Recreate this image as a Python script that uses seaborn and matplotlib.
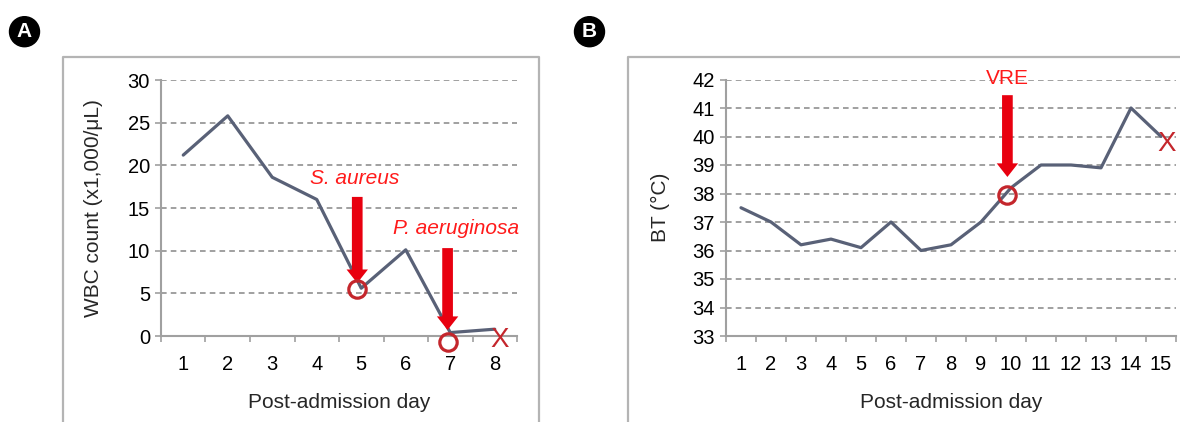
import matplotlib
matplotlib.use("Agg")
import matplotlib.pyplot as plt
import seaborn as sns
import pandas as pd
from matplotlib.patches import Circle
from matplotlib.lines import Line2D

# ---------------- data ----------------
days_a = [1, 2, 3, 4, 5, 6, 7, 8]
wbc = [21.2, 25.8, 18.6, 16.0, 5.6, 10.1, 0.4, 0.8]
yticks_a = [0, 5, 10, 15, 20, 25, 30]

days_b = [1, 2, 3, 4, 5, 6, 7, 8, 9, 10, 11, 12, 13, 14, 15]
bt = [37.5, 37.0, 36.2, 36.4, 36.1, 37.0, 36.0, 36.2, 37.0, 38.2, 39.0, 39.0, 38.9, 41.0, 40.0]
yticks_b = [33, 34, 35, 36, 37, 38, 39, 40, 41, 42]

# annotations: (label, text_x, text_y, arrow_x, arrow_top, arrow_tip, circle_x, circle_y)
ann_a = [("S. aureus", 4.86, 18.5, 4.91, 16.3, 6.2, 4.91, 5.5),
         ("P. aeruginosa", 7.12, 12.6, 6.94, 10.3, 0.7, 6.94, -0.67)]
death_a = (8.12, -0.47)
ann_b = [("VRE", 9.87, 42.05, 9.88, 41.45, 38.58, 9.86, 37.94)]
death_b = (15.19, 39.75)

# ---------------- style ----------------
sns.set_style("white")
plt.rcParams["font.family"] = ["Liberation Sans", "DejaVu Sans"]

LINE = "#596177"
RED_TXT = "#ff1a1a"
RED_ARR = "#e8000f"
RED_CIR = "#c4262c"
GRID = "#9c9c9c"
AXC = "#a0a0a0"
BOX = "#b4b4b4"

W, H = 1180, 422
fig = plt.figure(figsize=(W / 100, H / 100), dpi=100)

def px_axes(l, r, top, bot):
    return fig.add_axes([l / W, 1 - bot / H, (r - l) / W, (bot - top) / H])

axA = px_axes(161, 517, 80, 336)
axB = px_axes(726, 1176, 79.5, 336)

dfa = pd.DataFrame({"day": days_a, "val": wbc})
dfb = pd.DataFrame({"day": days_b, "val": bt})
sns.lineplot(data=dfa, x="day", y="val", ax=axA, color=LINE, lw=2.3, zorder=3)
sns.lineplot(data=dfb, x="day", y="val", ax=axB, color=LINE, lw=2.3, zorder=3)

def style_axis(ax, n, yticks, ylabel, ylab_x):
    ax.set_xlim(0.5, n + 0.5)
    ax.set_ylim(yticks[0], yticks[-1])
    ax.set_yticks(yticks)
    ax.set_xticks(range(1, n + 1))
    ax.set_xticks([i + 0.5 for i in range(0, n + 1)], minor=True)
    ax.tick_params(axis="x", which="major", length=0, pad=13.5, labelsize=14.5, colors="black")
    ax.tick_params(axis="x", which="minor", length=4, width=1.2, color=AXC, direction="out", bottom=True)
    ax.tick_params(axis="y", which="major", length=4, width=1.2, color=AXC, direction="out",
                   left=True, pad=4, labelsize=14.5, labelcolor="black")
    for s in ["top", "right"]:
        ax.spines[s].set_visible(False)
    for s in ["left", "bottom"]:
        ax.spines[s].set_color(AXC)
        ax.spines[s].set_linewidth(1.5)
    ax.yaxis.grid(True, color=GRID, lw=1.35, linestyle=(0, (3, 2.2)))
    ax.xaxis.grid(False)
    ax.set_axisbelow(True)
    ax.set_xlabel("Post-admission day", fontsize=15)
    ax.xaxis.set_label_coords(0.5, -0.222)
    ax.set_ylabel(ylabel, fontsize=15)
    ax.yaxis.set_label_coords(ylab_x, 0.5)
    ax.patch.set_alpha(0)

style_axis(axA, 8, yticks_a, "WBC count (x1,000/\u03bcL)", -0.163)
style_axis(axB, 15, yticks_b, "BT (\u00b0C)", -0.124)

def annotate(ax, anns, death, italic):
    for lab, tx, ty, ax_x, a_top, a_tip, cx, cy in anns:
        ax.text(tx, ty, lab, color=RED_TXT, fontsize=15, ha="center", va="center",
                style="italic" if italic else "normal", zorder=5)
        ax.annotate("", xy=(ax_x, a_tip), xytext=(ax_x, a_top),
                    arrowprops=dict(arrowstyle="simple,head_length=0.7,head_width=1.1,tail_width=0.55",
                                    mutation_scale=14, color=RED_ARR, lw=0, shrinkA=0, shrinkB=0),
                    zorder=5)
        ax.plot([cx], [cy], marker="o", ms=12.5, mfc="none", mec=RED_CIR, mew=2.3,
                clip_on=False, zorder=6)
    ax.text(death[0], death[1], "X", color=RED_CIR, fontsize=20, ha="center", va="center",
            clip_on=False, zorder=6)

annotate(axA, ann_a, death_a, True)
annotate(axB, ann_b, death_b, False)

# panel frames (open at the bottom / right like the crop of the original)
def frame(l, r, top):
    t = 1 - top / H
    xs = [l / W, l / W, r / W, r / W]
    ys = [-0.05, t, t, -0.05]
    fig.add_artist(Line2D(xs, ys, transform=fig.transFigure, color=BOX, lw=1.6))

frame(63, 539, 56.5)
frame(628, 1200, 56.5)

# panel letters
for cx, cy, lab in [(24.5, 31.7, "A"), (589.5, 31.7, "B")]:
    fig.add_artist(Circle((cx / 100, (H - cy) / 100), radius=0.15, color="black",
                          transform=fig.dpi_scale_trans, zorder=10))
    fig.text(cx / W, 1 - cy / H, lab, color="white", fontsize=15, fontweight="bold",
             ha="center", va="center", zorder=11)

fig.savefig("out.png", dpi=100)
